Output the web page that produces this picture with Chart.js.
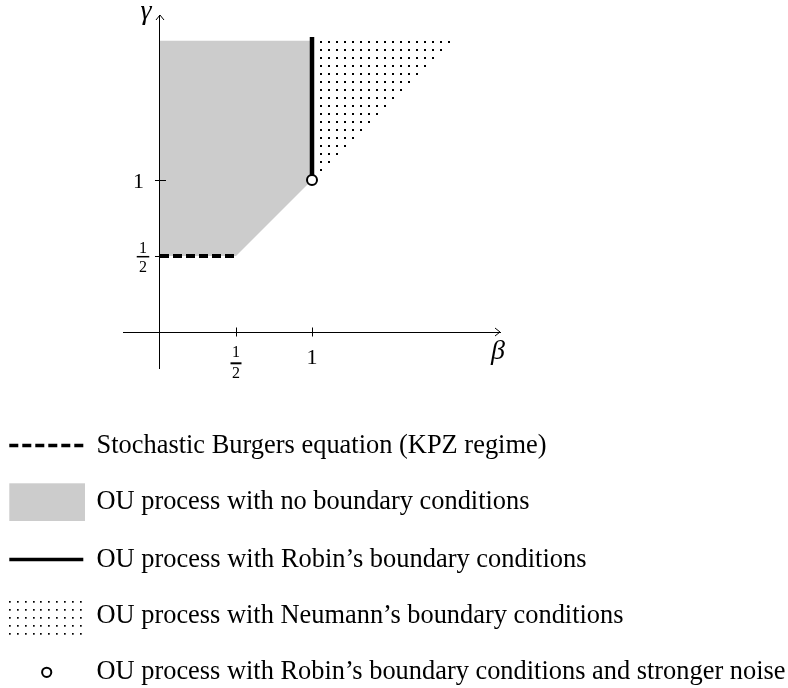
<!DOCTYPE html>
<html>
<head>
<meta charset="utf-8">
<script src="https://cdn.jsdelivr.net/npm/chart.js@4.4.1/dist/chart.umd.min.js"></script>
<style>
  html, body { margin: 0; padding: 0; background: #fff; }
  canvas { display: block; }
</style>
</head>
<body>
<canvas id="chart" width="788" height="688"></canvas>
<script>
// regions and curves of the (beta, gamma) diagram
const noBoundaryRegion = [[0, 0.5], [0.5, 0.5], [1, 1], [1, 1.916], [0, 1.916]];
const neumannRegion = [[1, 0.99], [1, 1.916], [1.925, 1.916]];
const robinLine = [[1, 1], [1, 1.94]];
const kpzLine = [[0, 0.5], [0.5, 0.5]];
const strongerNoisePoint = [[1, 1]];

const tickValues = [0.5, 1];
const tickLabels = ["1/2", "1"];
const xTitle = "β";
const yTitle = "γ";

const legendLabels = [
  "Stochastic Burgers equation (KPZ regime)",
  "OU process with no boundary conditions",
  "OU process with Robin’s boundary conditions",
  "OU process with Neumann’s boundary conditions",
  "OU process with Robin’s boundary conditions and stronger noise",
];
const legendKinds = ["dash", "box", "line", "dots", "circle"];

// legend layout (pixels)
const legendBaselines = [453, 509, 567, 623, 679];
const legendWidths = [450, 433, 490, 527, 689];

const SERIF = "'Liberation Serif', 'Times New Roman', serif";
const toXY = (pts) => pts.map(([x, y]) => ({ x, y }));

const ctx = document.getElementById("chart").getContext("2d");

function dotPattern() {
  const c = document.createElement("canvas");
  c.width = 8;
  c.height = 8;
  const g = c.getContext("2d");
  g.fillStyle = "#000";
  g.fillRect(0, 1, 2, 2);
  return ctx.createPattern(c, "repeat");
}

function drawFraction(c, text, cx, numBase, barY, denBase, size, barW, barH) {
  const [n, d] = text.split("/");
  c.font = size + "px " + SERIF;
  c.textAlign = "center";
  c.textBaseline = "alphabetic";
  c.fillText(n, cx, numBase);
  c.fillText(d, cx, denBase);
  c.fillRect(cx - barW / 2, barY - barH / 2, barW, barH);
}

const decorations = {
  id: "decorations",
  afterDraw(chart) {
    const c = chart.ctx;
    const xs = chart.scales.x;
    const ys = chart.scales.y;
    const x0 = xs.getPixelForValue(0);
    const y0 = ys.getPixelForValue(0);
    const area = chart.chartArea;

    c.save();
    c.strokeStyle = "#000";
    c.fillStyle = "#000";
    c.lineWidth = 1;

    // arrow heads
    c.beginPath();
    c.moveTo(area.right - 5, y0 - 4);
    c.lineTo(area.right, y0);
    c.lineTo(area.right - 5, y0 + 4);
    c.moveTo(x0 - 4, area.top + 5);
    c.lineTo(x0, area.top);
    c.lineTo(x0 + 4, area.top + 5);
    c.stroke();

    // tick marks and labels
    tickValues.forEach((v, i) => {
      const label = tickLabels[i];
      const px = xs.getPixelForValue(v);
      const py = ys.getPixelForValue(v);
      c.beginPath();
      c.moveTo(Math.round(px) + 0.5, y0 - 4.5);
      c.lineTo(Math.round(px) + 0.5, y0 + 4.5);
      c.moveTo(x0 - 5, Math.round(py) + 0.5);
      c.lineTo(x0 + 6, Math.round(py) + 0.5);
      c.stroke();

      if (label.includes("/")) {
        drawFraction(c, label, px, y0 + 25, y0 + 31.3, y0 + 46.3, 16, 11, 2);
        drawFraction(c, label, x0 - 17, py - 3, py + 0.7, py + 15.7, 16, 12.5, 1.5);
      } else {
        c.font = "22px " + SERIF;
        c.textAlign = "center";
        c.textBaseline = "alphabetic";
        c.fillText(label, px, y0 + 32);
        c.fillText(label, x0 - 21.5, py + 8);
      }
    });

    // axis titles
    c.font = "italic 28px " + SERIF;
    c.textAlign = "center";
    c.textBaseline = "alphabetic";
    c.fillText(xTitle, area.right - 2, y0 + 27);
    c.fillText(yTitle, x0 - 14, area.top + 4);

    // legend
    legendLabels.forEach((label, i) => {
      const base = legendBaselines[i];
      const kind = legendKinds[i];
      c.save();
      if (kind === "dash" || kind === "line") {
        c.lineWidth = 3.5;
        c.lineCap = "butt";
        c.setLineDash(kind === "dash" ? [9, 4] : []);
        c.beginPath();
        c.moveTo(9.3, base - 7.5);
        c.lineTo(83.3, base - 7.5);
        c.stroke();
      } else if (kind === "box") {
        c.fillStyle = "#cccccc";
        c.fillRect(9.3, 483.3, 75.7, 37.7);
      } else if (kind === "dots") {
        for (let a = 0; a < 10; a++) {
          for (let b = 0; b < 5; b++) {
            c.fillRect(Math.round(9 + 7.85 * a), Math.round(601 + 7.9 * b), 1.7, 1.7);
          }
        }
      } else if (kind === "circle") {
        c.lineWidth = 2;
        c.fillStyle = "#fff";
        c.beginPath();
        c.arc(46.7, 672.3, 4.6, 0, Math.PI * 2);
        c.fill();
        c.stroke();
      }
      c.restore();

      c.font = "28px " + SERIF;
      c.textAlign = "left";
      c.textBaseline = "alphabetic";
      const w = c.measureText(label).width;
      c.save();
      c.translate(96.5, base);
      c.scale(legendWidths[i] / w, 1);
      c.fillText(label, 0, 0);
      c.restore();
    });

    c.restore();
  },
};

new Chart(ctx, {
  type: "line",
  data: {
    datasets: [
      {
        label: "stronger noise",
        data: toXY(strongerNoisePoint),
        showLine: false,
        pointRadius: 5,
        pointBorderWidth: 2,
        pointBackgroundColor: "#fff",
        pointBorderColor: "#000",
        order: 0,
      },
      {
        label: "Robin",
        data: toXY(robinLine),
        borderColor: "#000",
        borderWidth: 4.5,
        borderCapStyle: "butt",
        pointRadius: 0,
        order: 1,
      },
      {
        label: "KPZ",
        data: toXY(kpzLine),
        borderColor: "#000",
        borderWidth: 4,
        borderDash: [9, 4],
        borderCapStyle: "butt",
        pointRadius: 0,
        order: 2,
      },
      {
        label: "Neumann",
        data: toXY(neumannRegion),
        borderColor: "rgba(0,0,0,0)",
        borderWidth: 0,
        backgroundColor: dotPattern(),
        fill: "shape",
        pointRadius: 0,
        order: 3,
      },
      {
        label: "no boundary",
        data: toXY(noBoundaryRegion),
        borderColor: "rgba(0,0,0,0)",
        borderWidth: 0,
        backgroundColor: "#cccccc",
        fill: "shape",
        pointRadius: 0,
        order: 4,
      },
    ],
  },
  options: {
    responsive: false,
    animation: false,
    devicePixelRatio: 1,
    layout: { padding: { left: 123, right: 288, top: 15, bottom: 320 } },
    plugins: {
      legend: { display: false },
      tooltip: { enabled: false },
    },
    scales: {
      x: {
        type: "linear",
        min: -0.2434,
        max: 2.2368,
        position: { y: 0 },
        z: 1,
        grid: { display: false },
        border: { display: true, color: "#000", width: 1 },
        ticks: { display: false },
        afterBuildTicks: (s) => {
          s.ticks = tickValues.map((value) => ({ value }));
        },
      },
      y: {
        type: "linear",
        min: -0.2368,
        max: 2.0855,
        position: { x: 0 },
        z: 1,
        grid: { display: false },
        border: { display: true, color: "#000", width: 1 },
        ticks: { display: false },
        afterBuildTicks: (s) => {
          s.ticks = tickValues.map((value) => ({ value }));
        },
      },
    },
  },
  plugins: [decorations],
});
</script>
</body>
</html>
